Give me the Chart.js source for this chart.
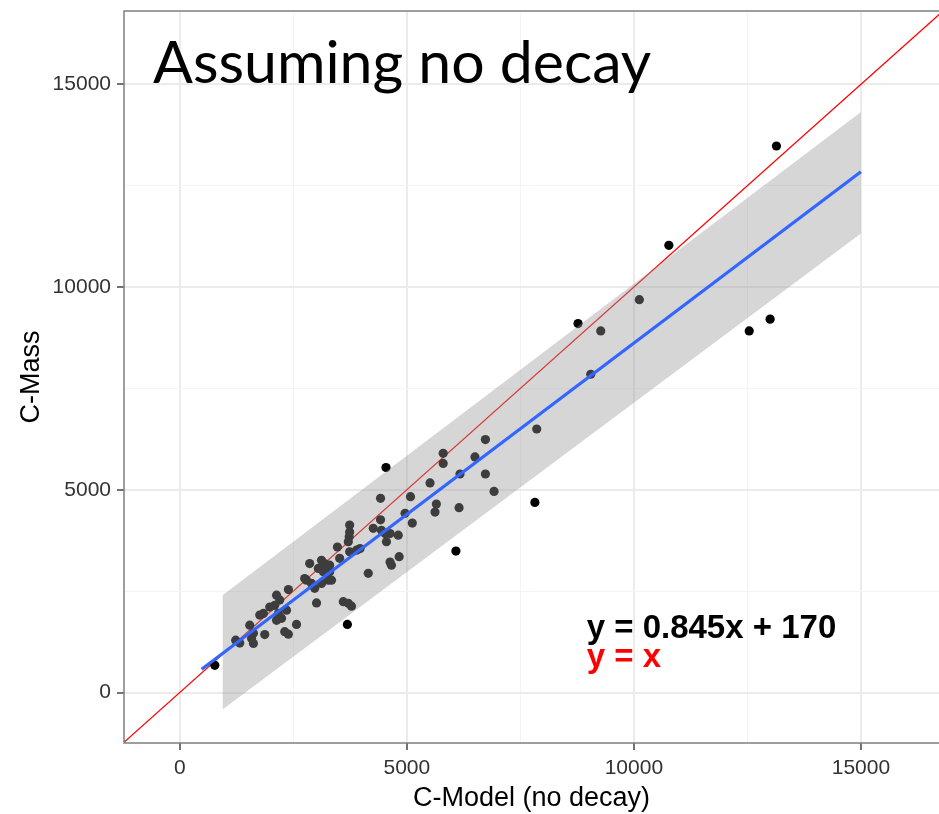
<!DOCTYPE html>
<html>
<head>
<meta charset="utf-8">
<script src="https://cdn.jsdelivr.net/npm/chart.js@4"></script>
<style>
  html, body { margin: 0; padding: 0; background: #fff; overflow: hidden; }
  #wrap { position: relative; width: 939px; height: 814px; }
  canvas { display: block; }
</style>
</head>
<body>
<div id="wrap"><canvas id="chart" width="939" height="814"></canvas></div>
<script>
// observed carbon: model estimate (no decay) vs measured mass
const modelC = [
  13140, 10770, 10120, 8770, 9270, 9050, 12540, 13000, 7860, 6730, 6500, 6730, 6920, 7820, 6080,
  4540, 5800, 5800, 6170, 5510, 5080, 4420, 5650, 5620, 6150, 4960, 5120, 4420, 4830, 4810,
  3740, 3740, 3730, 3710, 4260, 4440, 4520, 4630, 4550, 3470, 3740, 3890, 3970, 4630, 4660,
  4150, 2860, 3120, 3190, 3300, 3050, 3160, 3300, 3340, 3520, 2750, 2790, 2900, 3120, 3270,
  2970, 2390, 2130, 2200, 3010, 3600, 3710, 3780, 1980, 2090, 2350, 1760, 1840, 2170, 2240,
  2130, 2570, 1540, 1870, 2310, 2390, 1320, 1230, 1580, 1620, 1620, 770, 3690
];
const massC = [
  13480, 11030, 9690, 9100, 8920, 7850, 8920, 9210, 6500, 6240, 5810, 5390, 4960, 4690, 3490,
  5550, 5900, 5650, 5390, 5170, 4830, 4790, 4650, 4450, 4560, 4420, 4180, 4260, 3350, 3880,
  4130, 3960, 3840, 3720, 4050, 4000, 3920, 3920, 3720, 3590, 3470, 3510, 3550, 3220, 3140,
  2940, 3180, 3260, 3180, 3140, 3060, 2980, 2980, 2770, 3310, 2810, 2770, 2690, 2690, 2770,
  2570, 2540, 2400, 2280, 2210, 2240, 2200, 2130, 2110, 2150, 2030, 1910, 1950, 1950, 1830,
  1780, 1680, 1660, 1430, 1500, 1440, 1220, 1290, 1330, 1210, 1460, 670, 1680
];

// regression y = 0.845x + 170 and its prediction band
const fitSlope = 0.845;
const fitIntercept = 170;
const fitX = [480, 15000];
const bandX = [940, 15000];
const bandHi = [2400, 14320];
const bandLo = [-420, 11320];

// axis limits and ticks
const xLimits = [-1230, 16720];
const yLimits = [-1245, 16810];
const majorTicks = [0, 5000, 10000, 15000];
const minorTicks = [2500, 7500, 12500];

const titleText = 'Assuming no decay';
const eqText = 'y = 0.845x + 170';
const idText = 'y = x';
const eqPos = [8960, 1340];
const idPos = [8960, 625];

const isMajor = v => majorTicks.includes(v);
const gridTicks = majorTicks.concat(minorTicks).sort((a, b) => a - b);

function axisOpts(limits, title) {
  return {
    type: 'linear',
    min: limits[0],
    max: limits[1],
    afterBuildTicks: s => { s.ticks = gridTicks.map(v => ({ value: v })); },
    ticks: {
      autoSkip: false,
      maxRotation: 0,
      padding: 6,
      color: '#333',
      font: { family: 'Liberation Sans', size: 21 },
      callback: v => isMajor(v) ? String(v) : ''
    },
    grid: {
      color: c => isMajor(c.tick.value) ? '#EBEBEB' : '#F4F4F4',
      lineWidth: c => isMajor(c.tick.value) ? 2 : 1,
      tickColor: c => isMajor(c.tick.value) ? '#444' : 'rgba(0,0,0,0)',
      tickLength: 7,
      tickWidth: 1.5
    },
    border: { display: false },
    title: {
      display: true,
      text: title,
      color: '#000',
      font: { family: 'Liberation Sans', size: 27, lineHeight: 1 }
    }
  };
}

// fixed axis sizes, no extra room for overhanging labels
const xAxis = axisOpts(xLimits, 'C-Model (no decay)');
xAxis.afterFit = s => { s.height = 71; s.paddingLeft = 0; s.paddingRight = 0; };
xAxis.title.padding = { top: 0, bottom: 2 };
const yAxis = axisOpts(yLimits, 'C-Mass');
yAxis.afterFit = s => { s.width = 124; s.paddingTop = 0; s.paddingBottom = 0; };
yAxis.title.padding = { top: 18, bottom: 0 };

// panel frame, headline and equation labels
const decorations = {
  id: 'decorations',
  afterDatasetsDraw(chart) {
    const { ctx, chartArea: a, scales } = chart;
    ctx.save();
    ctx.strokeStyle = '#7F7F7F';
    ctx.lineWidth = 1.5;
    ctx.beginPath();
    ctx.moveTo(a.right + 4, a.top);
    ctx.lineTo(a.left, a.top);
    ctx.lineTo(a.left, a.bottom);
    ctx.lineTo(a.right + 4, a.bottom);
    ctx.stroke();

    ctx.fillStyle = '#000';
    ctx.textBaseline = 'alphabetic';
    ctx.textAlign = 'left';
    ctx.font = '59px Lato';
    ctx.fillText(titleText, 153, 83);

    ctx.font = 'bold 33px "Liberation Sans"';
    ctx.fillText(eqText, scales.x.getPixelForValue(eqPos[0]), scales.y.getPixelForValue(eqPos[1]));
    ctx.fillStyle = '#FF0000';
    ctx.fillText(idText, scales.x.getPixelForValue(idPos[0]), scales.y.getPixelForValue(idPos[1]));
    ctx.restore();
  }
};

new Chart(document.getElementById('chart'), {
  type: 'scatter',
  data: {
    datasets: [
      {
        label: 'y = x',
        data: [{ x: xLimits[0], y: xLimits[0] }, { x: 17000, y: 17000 }],
        showLine: true,
        borderColor: '#FF0000',
        borderWidth: 1.2,
        pointRadius: 0,
        order: 4
      },
      {
        label: 'points',
        data: modelC.map((x, i) => ({ x: x, y: massC[i] })),
        backgroundColor: '#000',
        borderWidth: 0,
        pointRadius: 4.6,
        order: 3
      },
      {
        label: 'band upper',
        data: bandX.map((x, i) => ({ x: x, y: bandHi[i] })),
        showLine: true,
        borderColor: 'rgba(0,0,0,0)',
        borderWidth: 0,
        pointRadius: 0,
        backgroundColor: 'rgba(153,153,153,0.4)',
        fill: '+1',
        order: 2
      },
      {
        label: 'band lower',
        data: bandX.map((x, i) => ({ x: x, y: bandLo[i] })),
        showLine: true,
        borderColor: 'rgba(0,0,0,0)',
        borderWidth: 0,
        pointRadius: 0,
        fill: false,
        order: 2
      },
      {
        label: 'fit',
        data: fitX.map(x => ({ x: x, y: fitSlope * x + fitIntercept })),
        showLine: true,
        borderColor: '#3366FF',
        borderWidth: 3.2,
        pointRadius: 0,
        order: 1
      }
    ]
  },
  options: {
    responsive: false,
    animation: false,
    layout: { autoPadding: false, padding: { top: 11, right: 0, bottom: 0, left: 0 } },
    plugins: {
      legend: { display: false },
      tooltip: { enabled: false }
    },
    scales: { x: xAxis, y: yAxis }
  },
  plugins: [decorations]
});
</script>
</body>
</html>
